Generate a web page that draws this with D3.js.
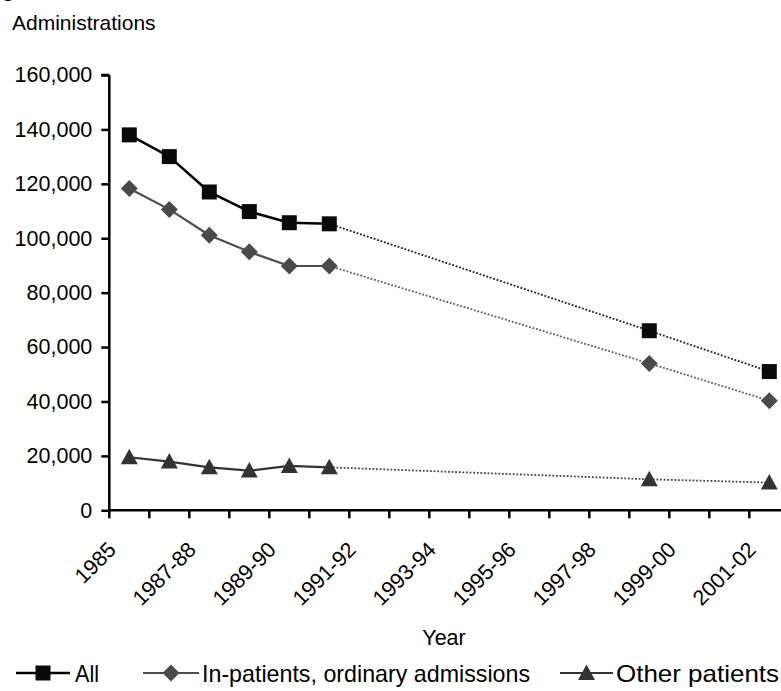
<!DOCTYPE html>
<html><head><meta charset="utf-8">
<script src="https://cdn.jsdelivr.net/npm/d3@7"></script>
<style>
body{margin:0;background:#fff;}
text{font-family:"Liberation Sans",Arial,sans-serif;fill:#000;}
</style></head>
<body>
<svg id="chart" width="781" height="691"></svg>
<script>
const categories = ["1985","1986-87","1987-88","1988-89","1989-90","1990-91","1991-92","1992-93","1993-94","1994-95","1995-96","1996-97","1997-98","1998-99","1999-00","2000-01","2001-02"];
const tickLabels = ["1985","1987-88","1989-90","1991-92","1993-94","1995-96","1997-98","1999-00","2001-02"];
const yTicks = [0,20000,40000,60000,80000,100000,120000,140000,160000];
const pointCats = ["1985","1986-87","1987-88","1988-89","1989-90","1990-91","1998-99","2001-02"];
const allValues = [138000,130000,117000,109800,105700,105300,66000,51000];
const inpatientValues = [118300,110600,101100,95000,89800,89800,54000,40300];
const otherValues = [19500,17900,15800,14600,16300,15800,11400,10200];
const seriesNames = ["All","In-patients, ordinary admissions","Other patients"];

const svg = d3.select("#chart");
const x0 = 109.3, bandW = 40;
const x = d3.scaleBand().domain(categories).range([x0, x0 + bandW*categories.length]).padding(0);
const y = d3.scaleLinear().domain([0,160000]).range([510.3,75]);
const fmt = d3.format(",");

// cut-off title (as in the reference)
svg.append("text").attr("x",-17).attr("y",-3).attr("font-size",21).attr("font-weight","bold").text("Figure");
svg.append("text").attr("x",12).attr("y",29.5).attr("font-size",21).text("Administrations");

// y axis
const yAxis = svg.append("g").attr("transform",`translate(${x0},0)`)
  .call(d3.axisLeft(y).tickValues(yTicks).tickFormat(fmt).tickSize(8).tickPadding(9));
yAxis.select(".domain").attr("stroke","#000").attr("stroke-width",2.5).attr("d",`M0,${y(0)}V${y(160000)}M0,${y(160000)}H-8`);
yAxis.selectAll(".tick line").attr("stroke","#000").attr("stroke-width",2.5);
yAxis.selectAll(".tick text").attr("font-size",21.5).attr("font-family","Liberation Sans, Arial, sans-serif").attr("fill","#000");

// x axis
const xTickPos = categories.map(c => x(c)).concat([x.range()[1]]);
const xg = svg.append("g");
xg.append("line").attr("x1",x0).attr("x2",x.range()[1]).attr("y1",y(0)).attr("y2",y(0)).attr("stroke","#000").attr("stroke-width",2.5);
xg.selectAll("line.tk").data(xTickPos).join("line").attr("class","tk")
  .attr("x1",d=>d).attr("x2",d=>d).attr("y1",y(0)).attr("y2",y(0)+8).attr("stroke","#000").attr("stroke-width",2.5);
xg.selectAll("text.xl").data(tickLabels).join("text").attr("class","xl")
  .attr("font-size",21.5).attr("text-anchor","end")
  .attr("transform",d=>`translate(${x(d)+x.bandwidth()/2-12},551) rotate(-45)`)
  .text(d=>d);
svg.append("text").attr("x",444).attr("y",645).attr("font-size",21.5).attr("text-anchor","middle").text("Year");

// series
const series = [
  {name:seriesNames[0], values:allValues, line:"#000", lw:2.5, dot:"#1a1a1a", marker:"square", fill:"#0a0a0a"},
  {name:seriesNames[1], values:inpatientValues, line:"#4d4d4d", lw:2.2, dot:"#5a5a5a", marker:"diamond", fill:"#4a4a4a"},
  {name:seriesNames[2], values:otherValues, line:"#333", lw:2.2, dot:"#444", marker:"triangle", fill:"#333"}
];
const cx = c => x(c) + x.bandwidth()/2;
const markerPath = {
  square: d3.symbol().type(d3.symbolSquare).size(225)(),
  diamond: "M0,-8.5L8.5,0L0,8.5L-8.5,0Z",
  triangle: "M0,-8.5L8.5,7L-8.5,7Z"
};

series.forEach(s => {
  const pts = pointCats.map((c,i)=>({c, idx:categories.indexOf(c), v:s.values[i]}));
  const g = svg.append("g");
  for (let i=0;i<pts.length-1;i++){
    const a=pts[i], b=pts[i+1];
    const solid = b.idx - a.idx === 1;
    g.append("line").attr("x1",cx(a.c)).attr("y1",y(a.v)).attr("x2",cx(b.c)).attr("y2",y(b.v))
      .attr("stroke", solid ? s.line : s.dot).attr("stroke-width", solid ? s.lw : 1.8)
      .attr("stroke-dasharray", solid ? null : "1.8,1.8");
  }
  g.selectAll("path.m").data(pts).join("path").attr("class","m")
    .attr("d", markerPath[s.marker])
    .attr("transform", d=>`translate(${cx(d.c)},${y(d.v)})`)
    .attr("fill", s.fill);
});

// legend
const legendY = 673;
const legendItems = [
  {s:series[0], x1:16, x2:70, tx:75, w:24},
  {s:series[1], x1:143, x2:199, tx:202, w:328},
  {s:series[2], x1:560, x2:613, tx:616, w:163}
];
legendItems.forEach(it=>{
  const g = svg.append("g");
  g.append("line").attr("x1",it.x1).attr("x2",it.x2).attr("y1",legendY).attr("y2",legendY).attr("stroke",it.s.line).attr("stroke-width",it.s.lw);
  g.append("path").attr("d", markerPath[it.s.marker])
    .attr("transform",`translate(${(it.x1+it.x2)/2},${legendY})`).attr("fill",it.s.fill);
  g.append("text").attr("x",it.tx).attr("y",legendY).attr("dy","0.36em").attr("font-size",24)
    .attr("textLength",it.w).attr("lengthAdjust","spacingAndGlyphs").text(it.s.name);
});
</script>
</body></html>
